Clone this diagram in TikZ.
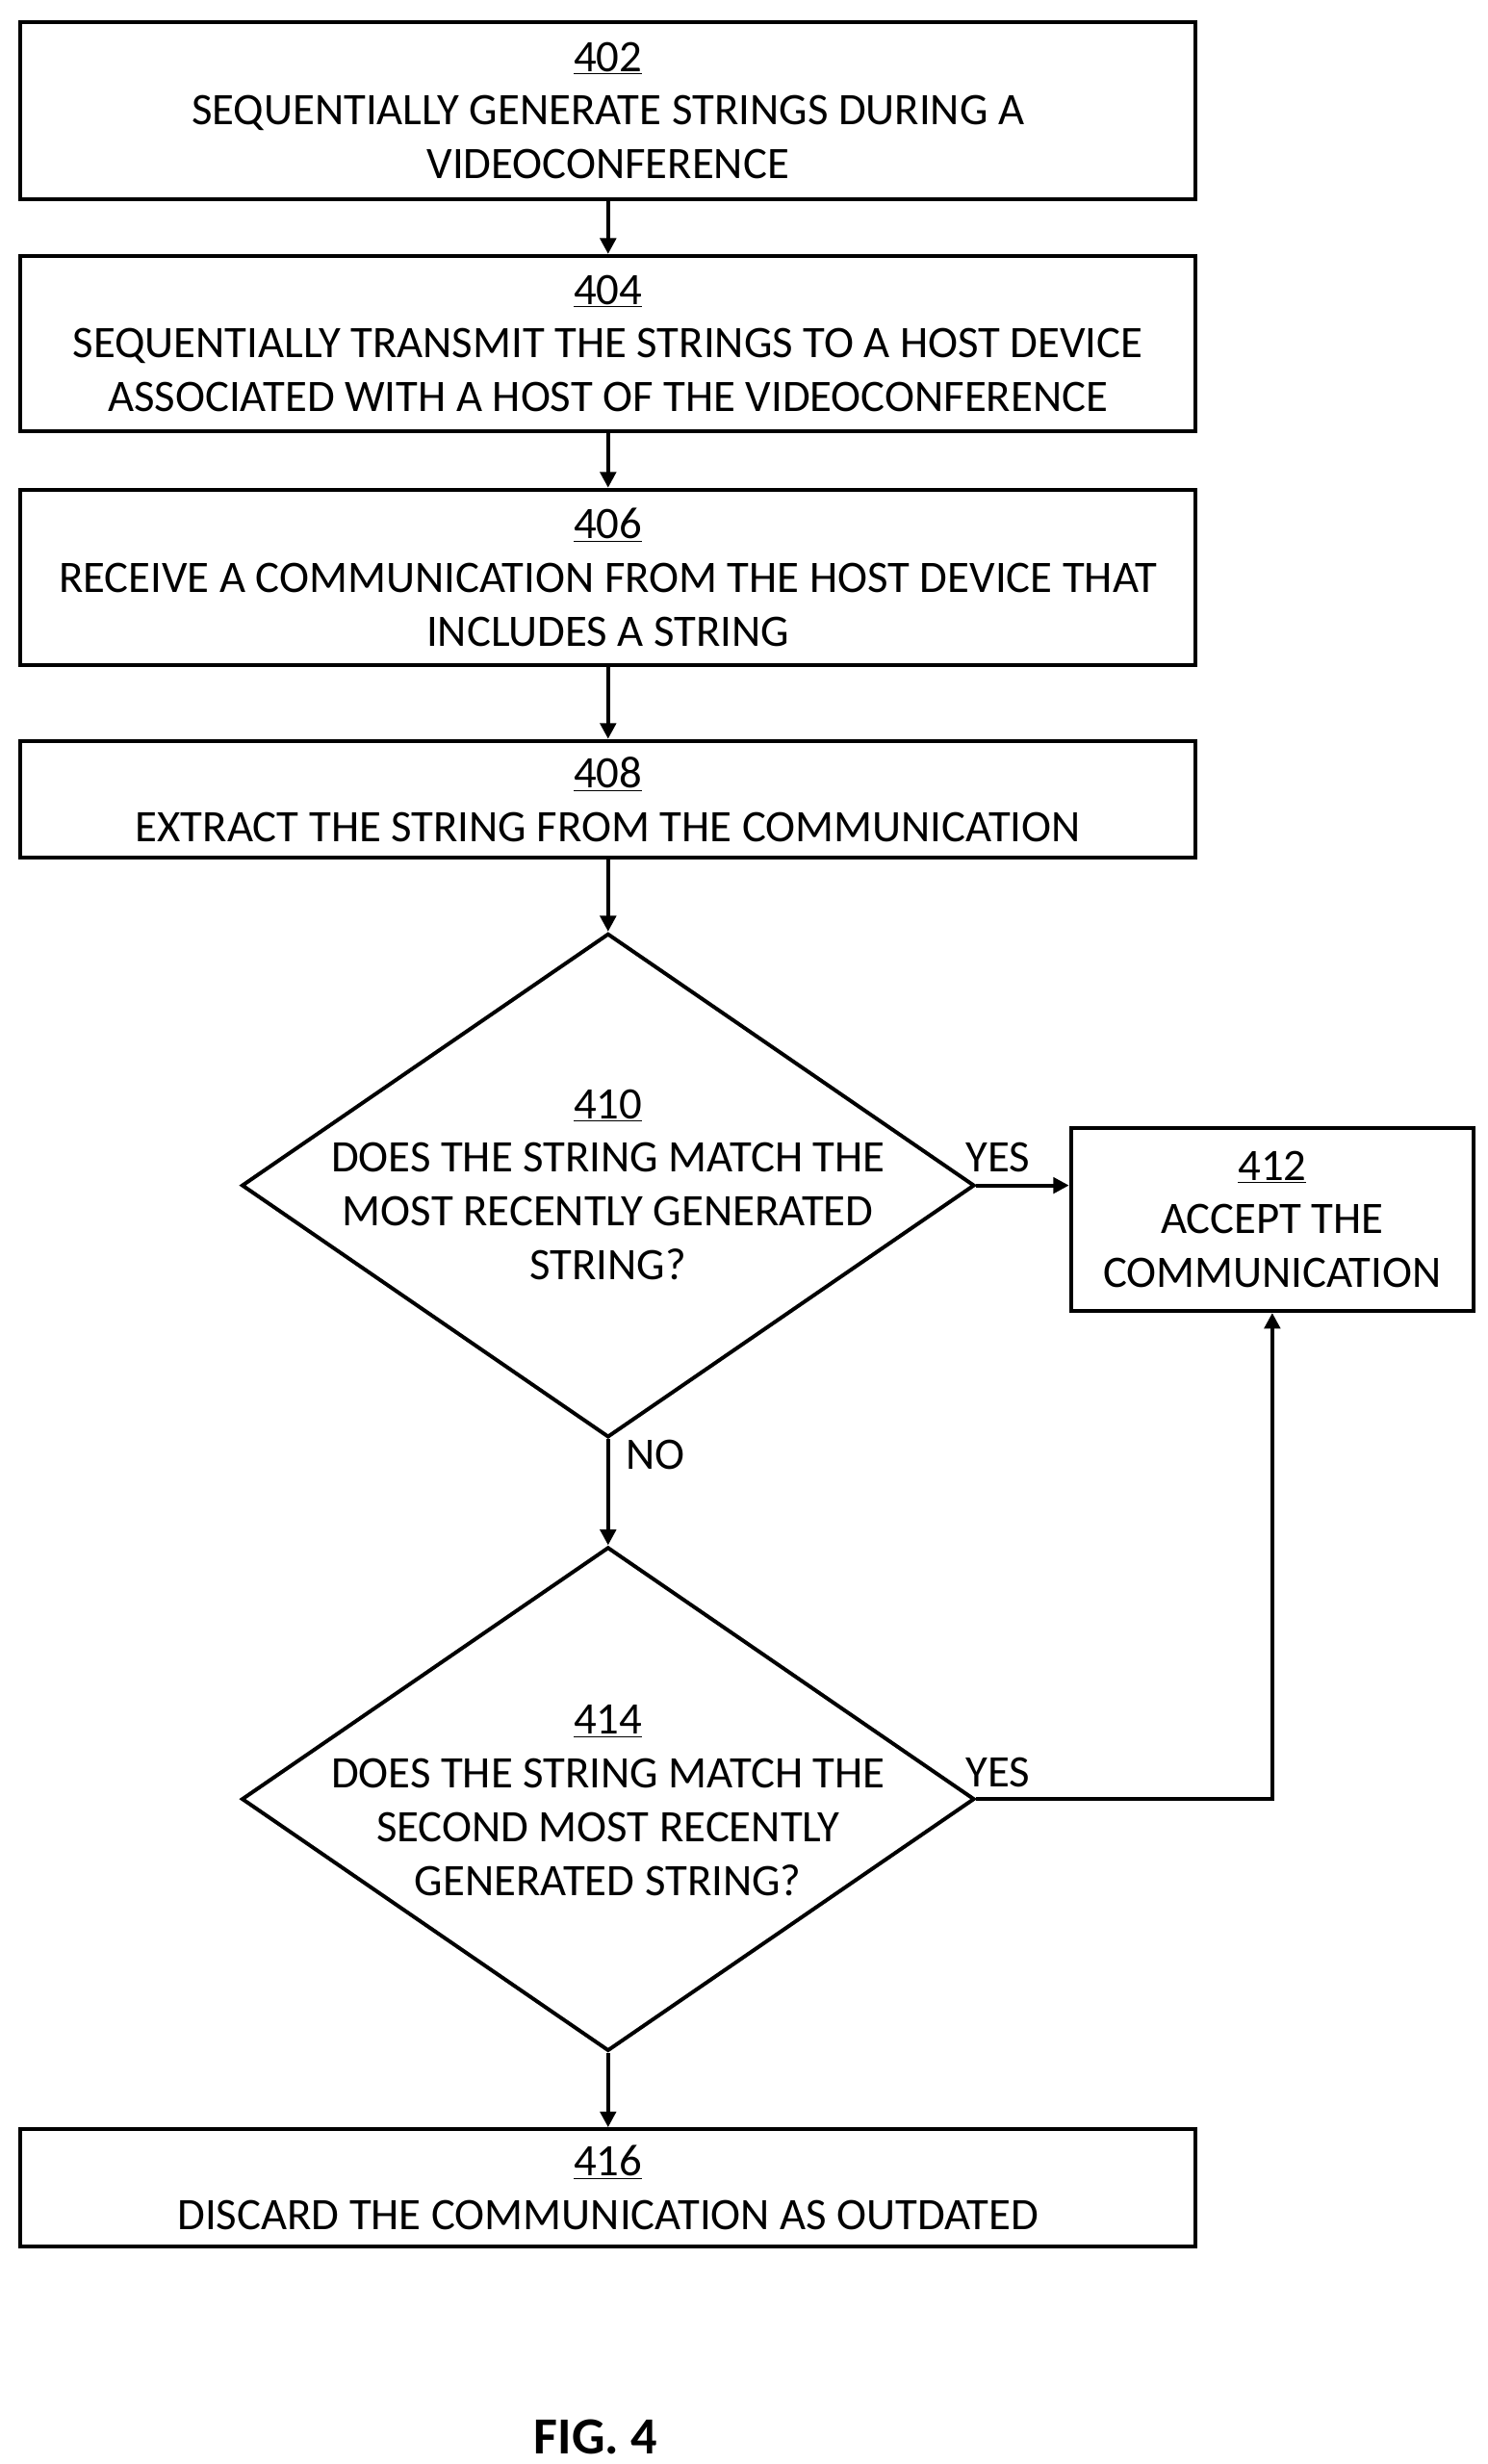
\documentclass[tikz,border=0pt]{standalone}
\usepackage{fontspec}
\setmainfont{Carlito}
\usetikzlibrary{positioning,arrows.meta,shapes.geometric}
\tikzset{
  procbox/.style={draw=black,line width=2.4pt,minimum width=744pt,align=center,
    font=\fontsize{28.5}{34}\selectfont,inner sep=0pt},
  test/.style={draw=black,line width=2.4pt,shape=diamond,minimum width=464pt,
    minimum height=319pt,inner sep=0pt},
  flow/.style={line width=2.4pt,-{Triangle[length=10pt,width=10pt]}},
  lbl/.style={font=\fontsize{28.5}{34}\selectfont}
}
\begin{document}
\begin{tikzpicture}[x=1pt,y=-1pt]
\useasboundingbox (0,0) rectangle (942,1560);
\node[procbox,minimum height=112pt] (s402) at (385,70)
  {\underline{402}\\SEQUENTIALLY GENERATE STRINGS DURING A\\VIDEOCONFERENCE};
\node[procbox,minimum height=111pt] (s404) at (385,217.5)
  {\underline{404}\\SEQUENTIALLY TRANSMIT THE STRINGS TO A HOST DEVICE\\ASSOCIATED WITH A HOST OF THE VIDEOCONFERENCE};
\node[procbox,minimum height=111pt] (s406) at (385,365.5)
  {\underline{406}\\RECEIVE A COMMUNICATION FROM THE HOST DEVICE THAT\\INCLUDES A STRING};
\node[procbox,minimum height=74pt] (s408) at (385,506)
  {\underline{408}\\EXTRACT THE STRING FROM THE COMMUNICATION};
\node[test] (d410) at (385,750.5) {};
\node[lbl,align=center] (t410) at (385,750)
  {\underline{410}\\DOES THE STRING MATCH THE\\MOST RECENTLY GENERATED\\STRING?};
\node[procbox,minimum width=255pt,minimum height=116pt] (s412) at (805.5,772)
  {\underline{412}\\ACCEPT THE\\COMMUNICATION};
\node[test] (d414) at (385,1139) {};
\node[lbl,align=center] (t414) at (385,1140)
  {\underline{414}\\DOES THE STRING MATCH THE\\SECOND MOST RECENTLY\\GENERATED STRING?};
\node[procbox,minimum height=74pt] (s416) at (385,1385)
  {\underline{416}\\DISCARD THE COMMUNICATION AS OUTDATED};
\node[font=\bfseries\fontsize{33}{38}\selectfont] (fig) at (377,1543) {FIG. 4};

\draw[flow] (s402) -- (s404);
\draw[flow] (s404) -- (s406);
\draw[flow] (s406) -- (s408);
\draw[flow] (s408) -- (d410.north);
\draw[flow] (d410.east) -- (s412.west |- d410.east);
\draw[flow] (d410.south) -- (d414.north);
\draw[flow] (d414.east) -| (s412.south);
\draw[flow] (d414.south) -- (s416.north);

\node[lbl] (yes1) at (632,733) {YES};
\node[lbl] (no1) at (415,921) {NO};
\node[lbl] (yes2) at (632,1122) {YES};
\end{tikzpicture}
\end{document}
